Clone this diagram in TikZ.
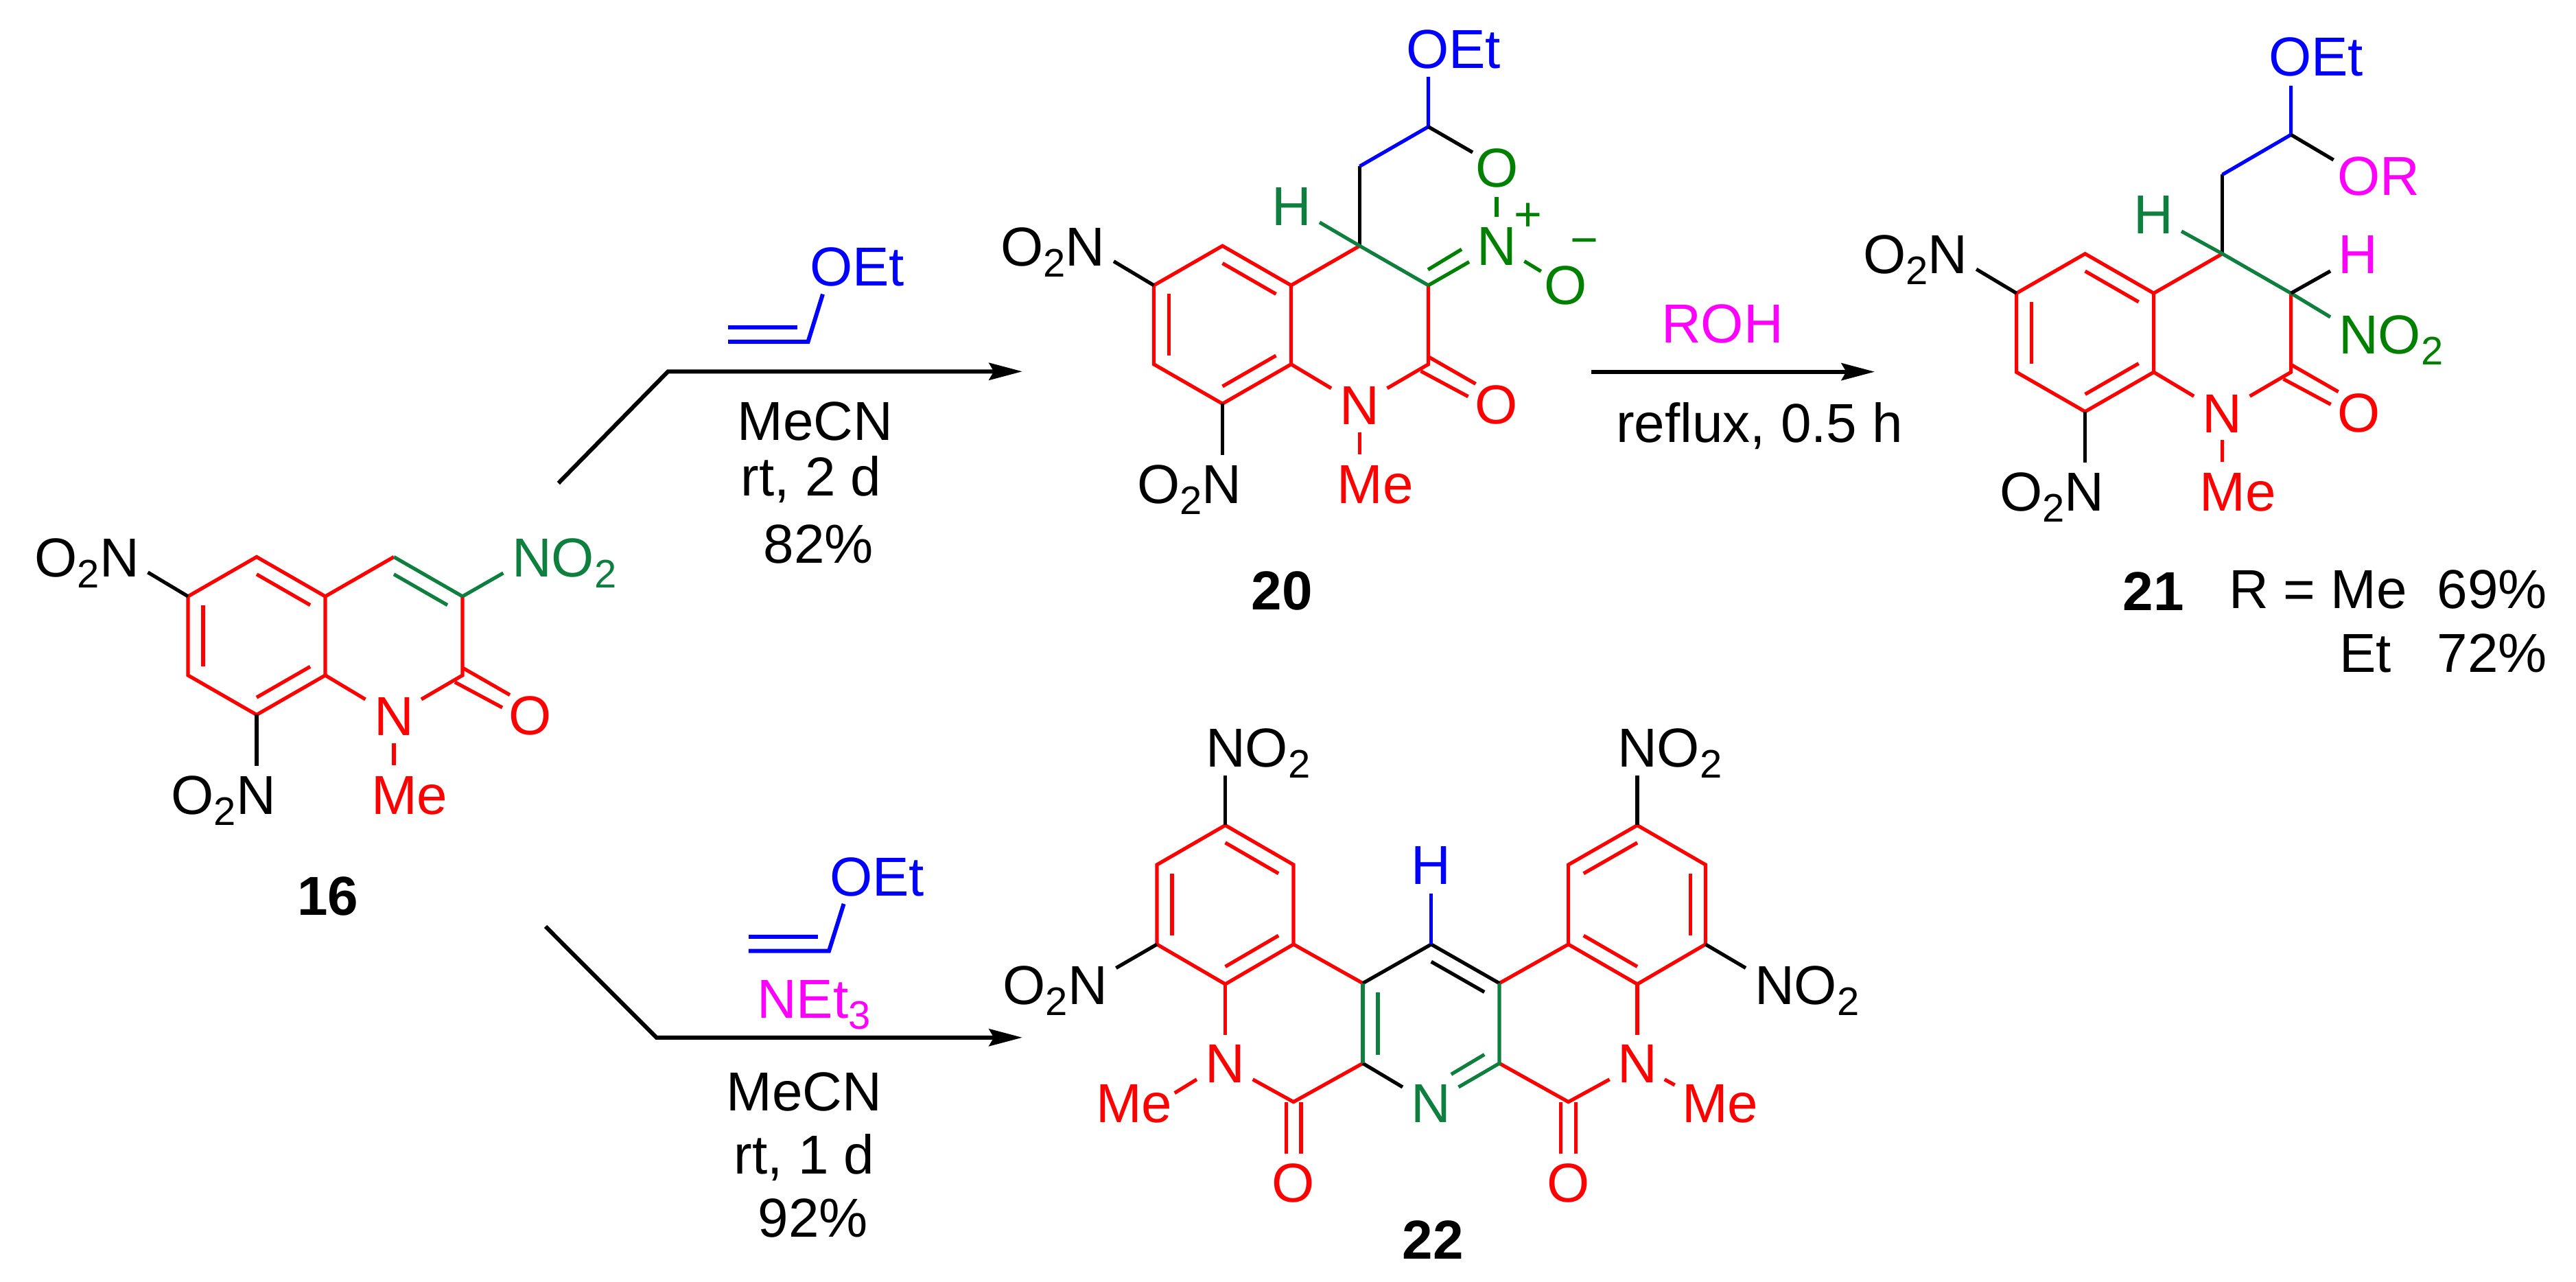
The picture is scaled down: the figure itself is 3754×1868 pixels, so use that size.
\documentclass[tikz,border=0pt]{standalone}
\usepackage{graphicx}
\usepackage{fontspec}
\setmainfont{Liberation Sans}
\usetikzlibrary{calc,arrows.meta}
\definecolor{grnA}{HTML}{0F7F3F}
\definecolor{grnB}{HTML}{008000}
\definecolor{mag}{HTML}{FF00FF}
\definecolor{blu}{HTML}{0000FF}
\definecolor{rd}{HTML}{FF0000}
\newcommand\sbs[1]{\raisebox{-0.2em}{\fontsize{5.8}{7}\selectfont #1}}
\tikzset{
  bd/.style={line width=0.52pt,line join=miter,line cap=butt},
  rxn/.style={line width=0.6pt,line join=miter,black},
  rxa/.style={rxn,-{Stealth[length=4.85pt,width=2.5pt,inset=0.7pt]}},
  vin/.style={line width=0.6pt,line join=miter,blu},
  lab/.style={inner sep=0pt,outer sep=0pt,font=\fontsize{8}{9.6}\selectfont,anchor=base},
  lw/.style={lab,anchor=base west},
  le/.style={lab,anchor=base east},
  num/.style={lab,font=\fontsize{8}{9.6}\selectfont\bfseries},
}
% inner line of a double bond, scaled towards the ring centre
\newcommand\ibond[4][rd]{\draw[bd,#1] ($(#2)!0.78!(#3)$) -- ($(#2)!0.78!(#4)$);}
% the quinolinone skeleton shared by 16, 20 and 21
\newcommand\quin[3]{%
\begin{scope}[shift={(#2,#3)}]
  \coordinate (#1C6) at (-200,0);
  \coordinate (#1C5) at (-100,-57.5);
  \coordinate (#1J) at (0,0);
  \coordinate (#1K) at (0,115);
  \coordinate (#1C8) at (-100,172.5);
  \coordinate (#1C7) at (-200,115);
  \coordinate (#1C4) at (100,-57.5);
  \coordinate (#1C3) at (200,0);
  \coordinate (#1C2) at (200,115);
  \coordinate (#1ra) at (-100,57.5);
  \coordinate (#1rb) at (100,57.5);
  \coordinate (#1eU) at (-258.5,-35);
  \coordinate (#1eL) at (-100,247);
  \coordinate (#1eNa) at (58.5,150);
  \coordinate (#1eNb) at (140,150);
  \coordinate (#1eMa) at (100,214);
  \coordinate (#1eMb) at (100,246);
  \coordinate (#1o1a) at (200,104);
  \coordinate (#1o1b) at (269,143.6);
  \coordinate (#1o2a) at (189,125);
  \coordinate (#1o2b) at (258,162);
  \draw[bd,rd] (#1C6) -- (#1C5) -- (#1J) -- (#1K) -- (#1C8) -- (#1C7) -- cycle;
  \draw[bd,rd] (#1J) -- (#1C4);
  \draw[bd,rd] (#1C3) -- (#1C2) -- (#1eNb);
  \draw[bd,rd] (#1K) -- (#1eNa);
  \draw[bd,rd] (#1eMa) -- (#1eMb);
  \draw[bd,rd] (#1o1a) -- (#1o1b);
  \draw[bd,rd] (#1o2a) -- (#1o2b);
  \ibond{#1ra}{#1C5}{#1J}
  \ibond{#1ra}{#1C6}{#1C7}
  \ibond{#1ra}{#1C8}{#1K}
  \draw[bd] (#1C6) -- (#1eU);
  \draw[bd] (#1C8) -- (#1eL);
  \node[le] (#1lU) at (-271,-28.6) {O\sbs{2}N};
  \node[le] (#1lL) at (-72,317.6) {O\sbs{2}N};
  \node[lab,text=rd] (#1lN) at (100,203) {N};
  \node[lab,text=rd] (#1lO) at (299,202) {O};
  \node[lw,text=rd] (#1lM) at (67,317.6) {Me};
\end{scope}}
\begin{document}
\begin{tikzpicture}[x=0.1pt,y=-0.1pt]
\useasboundingbox (0,0) rectangle (3754,1868);
% ---------- 16
\quin{a}{474}{869}
\draw[bd,grnA] (aC4) -- (aC3);
\ibond[grnA]{arb}{aC4}{aC3}
\coordinate (aeG) at (733.4,835);
\draw[bd,grnA] (aC3) -- (aeG);
\node[lw,text=grnA] (alG) at (746,840.4) {NO\sbs{2}};
\node[num] (n16) at (477.5,1334) {16};
% ---------- 20
\quin{b}{1881.5}{415.8}
\coordinate (bH2) at (1981.5,242.3);
\coordinate (bCH) at (2081.5,184.7);
\coordinate (beE) at (2081.5,112);
\coordinate (beO) at (2146,222);
\coordinate (beOa) at (2181,286.7);
\coordinate (beOb) at (2181,316.3);
\coordinate (beN) at (2141,381.6);
\coordinate (bd2a) at (2081,392.9);
\coordinate (bd2b) at (2130,363.3);
\coordinate (bMa) at (2221.4,380.6);
\coordinate (bMb) at (2245.7,395.4);
\coordinate (beH) at (1923,324);
\draw[bd] (bC4) -- (bH2);
\draw[bd,blu] (bH2) -- (bCH) -- (beE);
\draw[bd] (bCH) -- (beO);
\draw[bd,grnA] (beH) -- (bC4) -- (bC3);
\draw[bd,grnB] (bC3) -- (beN);
\draw[bd,grnB] (bd2a) -- (bd2b);
\draw[bd,grnB] (beOa) -- (beOb);
\draw[bd,grnB] (bMa) -- (bMb);
\node[lw,text=blu] (blE) at (2049,99.5) {OEt};
\node[lab,text=grnB] (blO) at (2181.2,273) {O};
\node[lab,text=grnB] (blNp) at (2181,386.7) {N};
\node[lab,text=grnB,font=\fontsize{7}{8}\selectfont,anchor=center] (blP) at (2226.5,316.3) {+};
\node[lab,text=grnB,font=\fontsize{7}{8}\selectfont,anchor=center] (blM) at (2309,360.2) {−};
\node[lab,text=grnB] (blOm) at (2281.4,444) {O};
\node[lab,text=grnA] (blH) at (1882.8,329) {H};
\node[num] (n20) at (1868,889) {20};
% ---------- 21
\quin{c}{3138.6}{427.3}
\coordinate (cH2) at (3238.6,254.5);
\coordinate (cCH) at (3338.6,196.3);
\coordinate (ceE) at (3338.6,125);
\coordinate (ceR) at (3400.6,233);
\coordinate (ceH) at (3179,337);
\coordinate (ceI) at (3396,395);
\coordinate (ceG) at (3396,462);
\draw[bd] (cC4) -- (cH2);
\draw[bd,blu] (cH2) -- (cCH) -- (ceE);
\draw[bd] (cCH) -- (ceR);
\draw[bd,grnA] (ceH) -- (cC4) -- (cC3) -- (ceG);
\draw[bd] (cC3) -- (ceI);
\node[lw,text=blu] (clE) at (3306,110.5) {OEt};
\node[lw,text=mag] (clR) at (3406,284.7) {OR};
\node[lab,text=grnA] (clH) at (3138.6,341) {H};
\node[lab,text=mag] (clI) at (3436.7,399) {H};
\node[lw,text=grnB] (clG) at (3408,515.7) {NO\sbs{2}};
\node[num] (n21) at (3138,889.5) {21};
\node[lw] (cr1) at (3248,887) {R = Me};
\node[le] (cy1) at (3712,887) {69\%};
\node[lw] (cr2) at (3409,980) {Et};
\node[le] (cy2) at (3712,980) {72\%};
% ---------- 22
\foreach \n/\x/\y in {
  LA/1785.6/1202.5, LB/1885/1260, LC/1885/1376, LD/1785.6/1434, LE/1686/1376, LF/1686/1260,
  MA/1986/1432.7, MB/1986/1549.4, MC/1885/1605.6, MN/1785.6/1548,
  PA/2085.7/1376, PB/2185/1432.7, PC/2185/1549.4, PN/2085.7/1606.8,
  RA/2386/1202.5, RB/2485.4/1260, RC/2485.4/1376, RD/2386/1434, RE/2285.6/1376, RF/2285.6/1260,
  RN/2386/1548, RO/2285.6/1605.6,
  cL/1785.6/1318, cR/2386/1318, cP/2085.7/1491,
  eLT/1785.6/1130, eRT/2386/1130, eLS/1626.4/1410.5, eRS/2544/1410.5,
  eMl/1711.8/1592.6, eMla/1744/1572.8, eMr/2440.6/1581, eMra/2425.7/1572.8,
  eNla/1785.6/1508, eNlb/1825.6/1572.8, eNrb/2386/1508, eNrc/2345.6/1572.8,
  eHb/2085.7/1302.5, ePl/2044/1584, ePr/2125.5/1584, ePi/2114.8/1565.4,
  oLa/1874.3/1605.6, oLb/1874.3/1680.9, oLc/1895.9/1605.6, oLd/1895.9/1680.9,
  oRa/2274.8/1605.6, oRb/2274.8/1680.9, oRc/2296.4/1605.6, oRd/2296.4/1680.9}
  {\coordinate (\n) at (\x,\y);}
\coordinate (ePiB) at ($(cP)!0.78!(PC)$);
\draw[bd,rd] (LA) -- (LB) -- (LC) -- (LD) -- (LE) -- (LF) -- cycle;
\draw[bd,rd] (LD) -- (eNla);
\draw[bd,rd] (LC) -- (MA);
\draw[bd,rd] (eNlb) -- (MC) -- (MB);
\draw[bd,rd] (eMla) -- (eMl);
\draw[bd,rd] (oLa) -- (oLb);
\draw[bd,rd] (oLc) -- (oLd);
\draw[bd,rd] (RA) -- (RB) -- (RC) -- (RD) -- (RE) -- (RF) -- cycle;
\draw[bd,rd] (RD) -- (eNrb);
\draw[bd,rd] (RE) -- (PB);
\draw[bd,rd] (eNrc) -- (RO) -- (PC);
\draw[bd,rd] (eMra) -- (eMr);
\draw[bd,rd] (oRa) -- (oRb);
\draw[bd,rd] (oRc) -- (oRd);
\draw[bd] (MA) -- (PA) -- (PB);
\draw[bd] (MB) -- (ePl);
\draw[bd,grnA] (MA) -- (MB);
\draw[bd,grnA] (PB) -- (PC) -- (ePr);
\draw[bd,grnA] (ePiB) -- (ePi);
\ibond{cL}{LA}{LB}
\ibond{cL}{LF}{LE}
\ibond{cL}{LD}{LC}
\ibond{cR}{RA}{RF}
\ibond{cR}{RB}{RC}
\ibond{cR}{RD}{RE}
\ibond[grnA]{cP}{MA}{MB}
\ibond[black]{cP}{PA}{PB}
\draw[bd,blu] (PA) -- (eHb);
\draw[bd] (LA) -- (eLT);
\draw[bd] (RA) -- (eRT);
\draw[bd] (LE) -- (eLS);
\draw[bd] (RC) -- (eRS);
\node[lw] (dT1) at (1757,1117.3) {NO\sbs{2}};
\node[lw] (dT2) at (2357,1117.3) {NO\sbs{2}};
\node[le] (dS1) at (1614,1463.6) {O\sbs{2}N};
\node[lw] (dS2) at (2557,1463.6) {NO\sbs{2}};
\node[lab,text=blu] (dH) at (2085.7,1289) {H};
\node[lab,text=grnA] (dN) at (2085.7,1635.8) {N};
\node[lab,text=rd] (dN1) at (1785.6,1578) {N};
\node[lab,text=rd] (dN2) at (2386,1578) {N};
\node[lab,text=rd] (dO1) at (1885,1752) {O};
\node[lab,text=rd] (dO2) at (2285.6,1752) {O};
\node[lw,text=rd] (dM1) at (1597,1635.8) {Me};
\node[lw,text=rd] (dM2) at (2451,1635.8) {Me};
\node[num] (n22) at (2088,1835) {22};
% ---------- arrow 16 -> 20
\coordinate (s1) at (813.8,704);
\coordinate (k1) at (973.5,541.3);
\coordinate (t1) at (1489.8,541.3);
\draw[rxa] (s1) -- (k1) -- (t1);
\coordinate (v1a) at (1061,497.8);
\coordinate (v1b) at (1177.6,497.8);
\coordinate (v1c) at (1199,428.7);
\coordinate (v1d) at (1061,476.8);
\coordinate (v1e) at (1162,476.8);
\draw[vin] (v1a) -- (v1b) -- (v1c);
\draw[vin] (v1d) -- (v1e);
\node[lw,text=blu] (r1E) at (1180,416.8) {OEt};
\node[lab] (r1a) at (1188,642) {MeCN};
\node[lab] (r1b) at (1182,722.7) {rt, 2 d};
\node[lab] (r1c) at (1193,820.9) {82\%};
% ---------- arrow 20 -> 21
\coordinate (s2) at (2319,541.7);
\coordinate (t2) at (2732,541.7);
\draw[rxa] (s2) -- (t2);
\node[lab,text=mag] (r2a) at (2510,500) {ROH};
\node[lab] (r2b) at (2564,645) {reflux, 0.5 h};
% ---------- arrow 16 -> 22
\coordinate (s3) at (795,1350);
\coordinate (k3) at (956.6,1511.8);
\coordinate (t3) at (1489.8,1511.8);
\draw[rxa] (s3) -- (k3) -- (t3);
\coordinate (v3a) at (1090.8,1385.7);
\coordinate (v3b) at (1208,1385.7);
\coordinate (v3c) at (1229.6,1317);
\coordinate (v3d) at (1090.8,1365);
\coordinate (v3e) at (1191.8,1365);
\draw[vin] (v3a) -- (v3b) -- (v3c);
\draw[vin] (v3d) -- (v3e);
\node[lw,text=blu] (r3E) at (1209,1305.7) {OEt};
\node[lw,text=mag] (r3N) at (1103,1484) {NEt\sbs{3}};
\node[lab] (r3a) at (1172,1618.7) {MeCN};
\node[lab] (r3b) at (1172,1710.8) {rt, 1 d};
\node[lab] (r3c) at (1185,1803) {92\%};
\end{tikzpicture}
\end{document}
